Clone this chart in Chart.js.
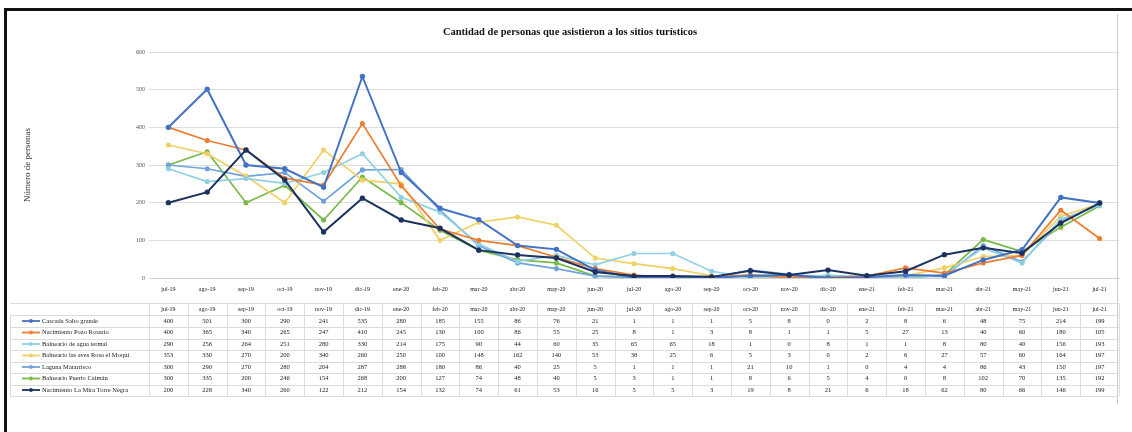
<!DOCTYPE html>
<html>
<head>
<meta charset="utf-8">
<script src="https://cdn.jsdelivr.net/npm/chart.js@4"></script>
<style>
  html, body { margin: 0; background: #fff; }
  #wrap { width: 1132px; height: 432px; position: relative; }
</style>
</head>
<body>
<div id="wrap"><canvas id="visitasChart" width="1132" height="432"></canvas></div>
<script>
// categorias (meses)
const meses = ["jul-19", "ago-19", "sep-19", "oct-19", "nov-19", "dic-19", "ene-20", "feb-20", "mar-20",
  "abr-20", "may-20", "jun-20", "jul-20", "ago-20", "sep-20", "oct-20", "nov-20", "dic-20",
  "ene-21", "feb-21", "mar-21", "abr-21", "may-21", "jun-21", "jul-21"];

const nombresSitios = ["Cascada Salto grande", "Nacimiento Pozo Rosario", "Balneario de agua termal",
  "Balneario las aves Rosa el Moqui", "Laguna Matarrisco", "Balneario Puerto Caimán",
  "Nacimiento La Mira Torre Negra"];

const cascadaSalto = [400, 501, 300, 290, 241, 535, 280, 185, 155, 86, 76, 21, 1, 1, 1, 5, 8, 0, 2, 8, 6, 48, 75, 214, 199];
const pozoRosario = [400, 365, 340, 265, 247, 410, 245, 130, 100, 86, 55, 25, 8, 1, 3, 8, 1, 1, 5, 27, 13, 40, 60, 180, 105];
const aguaTermal = [290, 256, 264, 251, 280, 330, 214, 175, 90, 44, 60, 35, 65, 65, 18, 1, 0, 8, 1, 1, 8, 80, 40, 156, 193];
const avesRosa = [353, 330, 270, 200, 340, 260, 250, 100, 148, 162, 140, 53, 38, 25, 6, 5, 3, 0, 2, 6, 27, 57, 60, 164, 197];
const lagunaMatarrisco = [300, 290, 270, 280, 204, 287, 288, 180, 86, 40, 25, 5, 1, 1, 1, 21, 10, 1, 0, 4, 4, 86, 43, 150, 197];
const puertoCaiman = [300, 335, 200, 246, 154, 268, 200, 127, 74, 48, 40, 5, 3, 1, 1, 8, 6, 5, 4, 0, 8, 102, 70, 135, 192];
const torreNegra = [200, 228, 340, 260, 122, 212, 154, 132, 74, 61, 53, 16, 5, 5, 3, 19, 8, 21, 6, 18, 62, 80, 66, 146, 199];

const ticksY = [0, 100, 200, 300, 400, 500, 600];

const titulo = "Cantidad de personas que asistieron a los sitios turísticos";
const tituloY = "Número de personas";

const valores = [cascadaSalto, pozoRosario, aguaTermal, avesRosa, lagunaMatarrisco, puertoCaiman, torreNegra];
const colores = ["#4472c4", "#ed7d31", "#8fd0e2", "#f1d064", "#6fa3dc", "#78b94a", "#1c3260"];

const serif = "'Liberation Serif', 'DejaVu Serif', serif";

// filas de la tabla de datos
const filaEncabezado = 309;
const filasY = [321, 332.5, 344, 355.5, 367, 378.5, 390];

const tablaPlugin = {
  id: "tablaDatos",
  beforeDraw(chart) {
    const ctx = chart.ctx;
    ctx.save();
    ctx.fillStyle = "#fff";
    ctx.fillRect(0, 0, chart.width, chart.height);
    ctx.restore();
  },
  afterDraw(chart) {
    const ctx = chart.ctx;
    const area = chart.chartArea;
    const x = chart.scales.x;
    const paso = (area.right - area.left) / meses.length;

    ctx.save();
    // marco negro
    ctx.fillStyle = "#111";
    ctx.fillRect(4, 8, chart.width - 4, 3);
    ctx.fillRect(4, 8, 3, chart.height - 8);
    ctx.fillStyle = "#ccc";
    ctx.fillRect(1117, 14, 1, 390);

    // titulo
    ctx.fillStyle = "#111";
    ctx.font = "bold 10.5px " + serif;
    ctx.textAlign = "center";
    ctx.textBaseline = "middle";
    ctx.fillText(titulo, 570, 32);

    // titulo eje y
    ctx.save();
    ctx.translate(28, 165);
    ctx.rotate(-Math.PI / 2);
    ctx.font = "9px " + serif;
    ctx.fillStyle = "#333";
    ctx.fillText(tituloY, 0, 0);
    ctx.restore();

    // lineas de la tabla
    const topTabla = filaEncabezado - 6;
    const fondoTabla = filasY[filasY.length - 1] + 6;
    ctx.strokeStyle = "#dcdcdc";
    ctx.lineWidth = 1;
    ctx.beginPath();
    for (let i = 0; i <= meses.length; i++) {
      const xx = Math.round(area.left + i * paso) + 0.5;
      ctx.moveTo(xx, topTabla);
      ctx.lineTo(xx, fondoTabla);
    }
    const bordes = [topTabla, filaEncabezado + 6];
    filasY.forEach(y => bordes.push(y + 6));
    bordes.forEach(b => {
      const yy = Math.round(b) + 0.5;
      ctx.moveTo(10, yy);
      ctx.lineTo(area.right, yy);
    });
    ctx.moveTo(10.5, filaEncabezado + 6);
    ctx.lineTo(10.5, fondoTabla);
    ctx.stroke();

    // encabezado
    ctx.font = "6px " + serif;
    ctx.fillStyle = "#222";
    ctx.textAlign = "center";
    meses.forEach((m, i) => {
      ctx.fillText(m, x.getPixelForValue(i), filaEncabezado);
    });

    // filas de valores y leyenda
    valores.forEach((serie, s) => {
      const y = filasY[s];
      ctx.textAlign = "center";
      ctx.fillStyle = "#222";
      ctx.font = "6.5px " + serif;
      serie.forEach((v, i) => {
        ctx.fillText(String(v), x.getPixelForValue(i), y);
      });
      // clave de leyenda
      ctx.strokeStyle = colores[s];
      ctx.lineWidth = 1.8;
      ctx.beginPath();
      ctx.moveTo(22, y);
      ctx.lineTo(40, y);
      ctx.stroke();
      ctx.fillStyle = colores[s];
      ctx.beginPath();
      ctx.arc(31, y, 1.9, 0, Math.PI * 2);
      ctx.fill();
      ctx.fillStyle = "#222";
      ctx.textAlign = "left";
      ctx.font = "6.5px " + serif;
      ctx.fillText(nombresSitios[s], 42, y);
    });
    ctx.restore();
  }
};

const ctx = document.getElementById("visitasChart").getContext("2d");

new Chart(ctx, {
  type: "line",
  data: {
    labels: meses,
    datasets: valores.map((serie, s) => ({
      label: nombresSitios[s],
      data: serie,
      borderColor: colores[s],
      backgroundColor: colores[s],
      borderWidth: s === 6 || s === 0 ? 2 : 1.7,
      pointRadius: 1.7,
      pointHoverRadius: 1.7,
      tension: 0,
      order: s === 6 ? 0 : s === 0 ? 1 : 2 + s,
    })),
  },
  options: {
    responsive: false,
    animation: false,
    layout: { padding: { left: 0, right: 13, top: 52, bottom: 0 } },
    plugins: {
      legend: { display: false },
      title: { display: false },
      tooltip: { enabled: false },
    },
    scales: {
      x: {
        offset: true,
        grid: { display: false, drawTicks: false },
        border: { color: "#d0d0d0" },
        ticks: {
          autoSkip: false,
          maxRotation: 0,
          padding: 8,
          color: "#222",
          font: { family: serif, size: 6 },
        },
        afterFit(scale) { scale.height = 154; },
      },
      y: {
        min: 0,
        max: 600,
        afterBuildTicks(scale) { scale.ticks = ticksY.map(v => ({ value: v })); },
        grid: { color: "#dedede", drawTicks: false },
        border: { display: false },
        ticks: {
          padding: 4,
          color: "#555",
          font: { family: serif, size: 6 },
        },
        afterFit(scale) { scale.width = 149; },
      },
    },
  },
  plugins: [tablaPlugin],
});
</script>
</body>
</html>
